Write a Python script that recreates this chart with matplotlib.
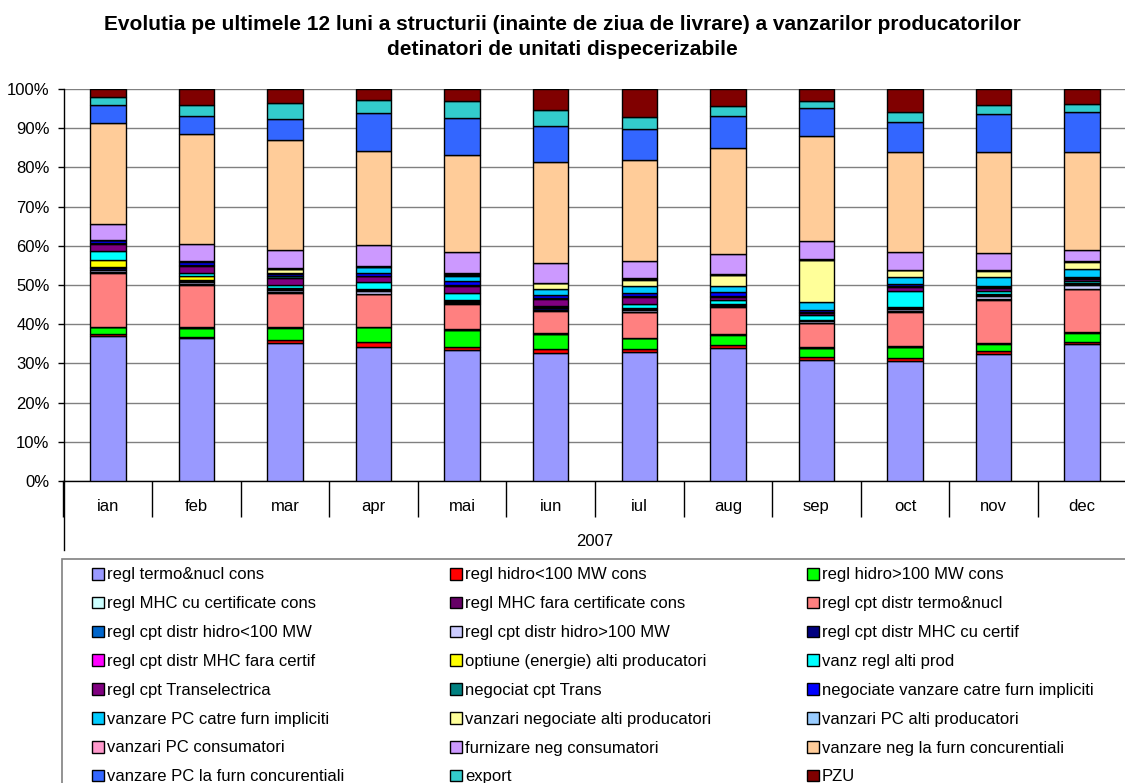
import matplotlib.pyplot as plt
import matplotlib.patches as mpatches
from matplotlib.ticker import PercentFormatter, FixedLocator
import numpy as np

plt.rcParams['font.family'] = ['Liberation Sans', 'DejaVu Sans']

# Months and the share (%) of each sale type
months = ['ian', 'feb', 'mar', 'apr', 'mai', 'iun', 'iul', 'aug', 'sep', 'oct', 'nov', 'dec']
year_label = '2007'

termo = [37.0, 36.4, 35.2, 34.3, 33.4, 32.6, 32.9, 33.9, 30.9, 30.6, 32.4, 34.9]
hidro_mic = [0.5, 0.4, 0.8, 1.1, 0.9, 1.0, 0.7, 0.8, 0.8, 0.9, 0.8, 0.6]
hidro_mare = [1.7, 2.2, 3.1, 3.8, 4.2, 3.9, 2.8, 2.6, 2.2, 2.7, 1.8, 2.3]
mhc_cu = [0.1, 0.1, 0.1, 0.1, 0.1, 0.1, 0.1, 0.1, 0.1, 0.1, 0.1, 0.1]
mhc_fara = [0.1, 0.2, 0.1, 0.1, 0.1, 0.1, 0.1, 0.1, 0.1, 0.1, 0.1, 0.1]
cpt_termo = [13.7, 10.8, 8.7, 8.3, 6.5, 5.7, 6.5, 7.0, 6.2, 8.8, 11.1, 11.0]
cpt_hidro_mic = [0.1, 0.1, 0.1, 0.1, 0.1, 0.1, 0.1, 0.1, 0.1, 0.1, 0.1, 0.1]
cpt_hidro_mare = [0.7, 0.6, 0.6, 0.7, 0.3, 0.2, 0.3, 0.3, 0.3, 0.6, 0.8, 0.9]
cpt_mhc_cu = [0.5, 0.3, 0.3, 0.2, 0.3, 0.5, 0.3, 0.2, 0.3, 0.3, 0.3, 0.3]
cpt_mhc_fara = [0.3, 0.2, 0.1, 0.1, 0.1, 0.1, 0.1, 0.1, 0.0, 0.1, 0.1, 0.2]
optiune = [1.7, 0.9, 0.2, 0.1, 0.2, 0.1, 0.2, 0.0, 0.0, 0.1, 0.0, 0.0]
vanz_regl = [2.4, 0.9, 0.6, 1.8, 1.8, 0.2, 1.1, 1.0, 1.3, 4.1, 0.9, 0.4]
transel = [1.7, 1.7, 2.0, 1.5, 1.7, 1.9, 1.8, 0.8, 0.6, 1.0, 0.8, 0.6]
neg_trans = [0.2, 0.2, 0.3, 0.2, 0.3, 0.2, 0.2, 0.3, 0.2, 0.3, 0.2, 0.2]
neg_impl = [0.8, 0.9, 0.6, 0.7, 0.9, 0.7, 0.8, 0.9, 0.5, 0.5, 0.2, 0.3]
pc_impl = [0.1, 0.1, 0.3, 1.5, 1.4, 1.7, 1.8, 1.6, 2.1, 1.8, 2.3, 2.1]
neg_alti = [0.0, 0.0, 1.0, 0.1, 0.3, 1.3, 1.6, 2.7, 10.7, 1.6, 1.6, 1.8]
pc_alti = [0.0, 0.0, 0.1, 0.1, 0.3, 0.1, 0.2, 0.1, 0.1, 0.1, 0.2, 0.1]
pc_cons = [0.0, 0.0, 0.1, 0.1, 0.2, 0.1, 0.1, 0.1, 0.1, 0.1, 0.1, 0.1]
furn_cons = [4.0, 4.5, 4.7, 5.2, 5.4, 4.9, 4.5, 5.1, 4.7, 4.6, 4.2, 2.9]
neg_conc = [25.6, 27.9, 28.0, 24.2, 24.7, 25.8, 25.6, 27.1, 26.7, 25.4, 25.9, 24.9]
pc_conc = [4.7, 4.7, 5.3, 9.6, 9.3, 9.3, 8.1, 8.2, 7.1, 7.7, 9.6, 10.2]
export = [2.0, 2.8, 4.2, 3.3, 4.4, 4.0, 3.0, 2.6, 1.9, 2.5, 2.2, 2.2]
pzu = [2.1, 4.1, 3.5, 2.8, 3.1, 5.4, 7.1, 4.3, 3.0, 5.9, 4.2, 3.7]

# stacking order = legend order (bottom to top)
series = [
    ('regl termo&nucl cons', termo, '#9999FF'),
    ('regl hidro<100 MW cons', hidro_mic, '#FF0000'),
    ('regl hidro>100 MW cons', hidro_mare, '#00FF00'),
    ('regl MHC cu certificate cons', mhc_cu, '#CCFFFF'),
    ('regl MHC fara certificate cons', mhc_fara, '#660066'),
    ('regl cpt distr termo&nucl', cpt_termo, '#FF8080'),
    ('regl cpt distr hidro<100 MW', cpt_hidro_mic, '#0066CC'),
    ('regl cpt distr hidro>100 MW', cpt_hidro_mare, '#CCCCFF'),
    ('regl cpt distr MHC cu certif', cpt_mhc_cu, '#000080'),
    ('regl cpt distr MHC fara certif', cpt_mhc_fara, '#FF00FF'),
    ('optiune (energie) alti producatori', optiune, '#FFFF00'),
    ('vanz regl alti prod', vanz_regl, '#00FFFF'),
    ('regl cpt Transelectrica', transel, '#800080'),
    ('negociat cpt Trans', neg_trans, '#008080'),
    ('negociate vanzare catre furn impliciti', neg_impl, '#0000FF'),
    ('vanzare PC catre furn impliciti', pc_impl, '#00CCFF'),
    ('vanzari negociate alti producatori', neg_alti, '#FFFF99'),
    ('vanzari PC alti producatori', pc_alti, '#99CCFF'),
    ('vanzari PC consumatori', pc_cons, '#FF99CC'),
    ('furnizare neg consumatori', furn_cons, '#CC99FF'),
    ('vanzare neg la furn concurentiali', neg_conc, '#FFCC99'),
    ('vanzare PC la furn concurentiali', pc_conc, '#3366FF'),
    ('export', export, '#33CCCC'),
    ('PZU', pzu, '#800000'),
]

W, H = 1125, 783
fig = plt.figure(figsize=(W / 100, H / 100), dpi=100)
ax = fig.add_axes([63.5 / W, (H - 481) / H, 1063 / W, 392 / H])

x = np.arange(len(months))
bottom = np.zeros(len(months))
handles = []
for name, vals, col in series:
    b = ax.bar(x, vals, width=0.4, bottom=bottom, color=col, edgecolor='black',
               linewidth=1.0, label=name, zorder=3)
    handles.append(b)
    bottom += np.array(vals)

ax.set_xlim(-0.5, len(months) - 0.5)
ax.set_ylim(0, 100)
ax.yaxis.set_major_locator(FixedLocator(np.arange(0, 101, 10)))
ax.yaxis.set_major_formatter(PercentFormatter(xmax=100, decimals=0))
ax.yaxis.grid(True, color='#808080', linewidth=1.0, zorder=0)
ax.set_axisbelow(True)
ax.tick_params(axis='y', length=4, width=1, pad=6, labelsize=12, direction='out')

# category separators as long ticks, month names on minor ticks
ax.set_xticks(np.arange(-0.5, len(months) + 0.5, 1.0))
ax.set_xticklabels([])
ax.set_xticks(x, minor=True)
ax.set_xticklabels(months, minor=True, fontsize=12)
ax.tick_params(axis='x', which='major', length=26, width=1, direction='out')
ax.tick_params(axis='x', which='minor', length=0, pad=13)

for s in ['top', 'right']:
    ax.spines[s].set_visible(False)
for s in ['left', 'bottom']:
    ax.spines[s].set_linewidth(1)
    ax.spines[s].set_color('black')

# year row under the months
ax.plot([0, 0], [0, -69 / 392], transform=ax.transAxes, color='black', lw=1, clip_on=False)
ax.plot([1, 1], [0, -69 / 392], transform=ax.transAxes, color='black', lw=1, clip_on=False)
ax.text(0.5, -60 / 392, year_label, transform=ax.transAxes, ha='center', va='center', fontsize=12)

fig.text(0.5, 1 - 37 / H,
         'Evolutia pe ultimele 12 luni a structurii (inainte de ziua de livrare) a vanzarilor producatorilor\n'
         'detinatori de unitati dispecerizabile',
         ha='center', va='center', fontsize=15, fontweight='bold', linespacing=1.35)

# legend box, three columns read row by row
frame = mpatches.Rectangle((62 / W, -0.1), 1.1, 1.1 - 559 / H, transform=fig.transFigure,
                           fill=False, edgecolor='#808080', linewidth=1.2)
fig.patches.append(frame)
col_x = [92, 450, 807]
for c in range(3):
    hs = handles[c::3]
    leg = fig.legend(hs, [h.get_label() for h in hs], loc='upper left',
                     bbox_to_anchor=(col_x[c] / W, 1 - 567.5 / H), frameon=False,
                     fontsize=12, handlelength=0.7, handleheight=0.7, handletextpad=0.2,
                     labelspacing=0.83, borderpad=0, borderaxespad=0)

plt.savefig('out.png', dpi=100)
plt.close()
